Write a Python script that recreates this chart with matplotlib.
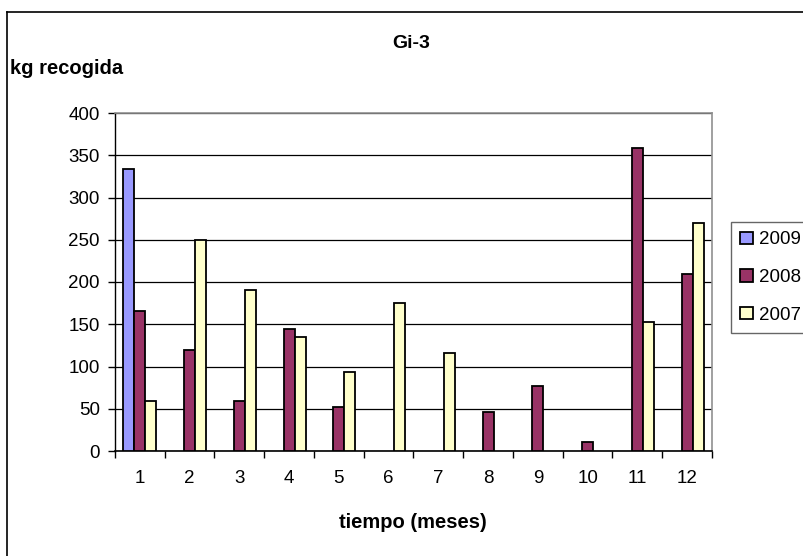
import numpy as np
import matplotlib
matplotlib.use("Agg")
import matplotlib.pyplot as plt
from matplotlib.lines import Line2D

months = [str(i) for i in range(1, 13)]
series_names = ["2009", "2008", "2007"]
v2009 = [334, None, None, None, None, None, None, None, None, None, None, None]
v2008 = [166, 119, 59, 144, 52, None, None, 46, 77, 11, 359, 209]
v2007 = [59, 250, 191, 135, 94, 175, 116, None, None, None, 153, 270]
colors = ["#9999FF", "#993366", "#FFFFCC"]
yticks = [0, 50, 100, 150, 200, 250, 300, 350, 400]

plt.rcParams['font.family'] = ['Liberation Sans', 'DejaVu Sans']

W, H = 804, 556
fig = plt.figure(figsize=(W/100, H/100), dpi=100)
fig.patch.set_facecolor("white")

# outer chart border (top and left edges visible; right/bottom cropped)
fig.add_artist(Line2D([7/W, 1.0], [1 - 12/H, 1 - 12/H], transform=fig.transFigure,
                      color="black", linewidth=1.2))
fig.add_artist(Line2D([7/W, 7/W], [0.0, 1 - 12/H], transform=fig.transFigure,
                      color="black", linewidth=1.2))

left, right, top, bottom = 115, 712, 113, 451
ax = fig.add_axes([left/W, 1 - bottom/H, (right-left)/W, (bottom-top)/H])

x = np.arange(len(months))
bw = 1/4.5
data = [v2009, v2008, v2007]
for i, (name, vals, c) in enumerate(zip(series_names, data, colors)):
    arr = np.array([np.nan if v is None else v for v in vals], dtype=float)
    ax.bar(x + (i-1)*bw, arr, width=bw, color=c, edgecolor="black", linewidth=1.3,
           label=name, zorder=3)

ax.set_xlim(-0.5, len(months)-0.5)
ax.set_ylim(0, 400)
ax.set_yticks(yticks)
ax.set_yticklabels([str(t) for t in yticks], fontsize=13.5)
ax.yaxis.grid(True, color="black", linewidth=0.9, zorder=0)
ax.set_axisbelow(True)

ax.set_xticks(np.arange(-0.5, len(months)+0.5, 1))
ax.set_xticklabels([])
ax.set_xticks(x, minor=True)
ax.set_xticklabels(months, minor=True, fontsize=13.5)
ax.tick_params(axis='x', which='minor', length=0, pad=14)
ax.tick_params(axis='x', which='major', direction='out', length=5, width=1)
ax.tick_params(axis='y', direction='out', length=5, width=1, pad=6)

ax.spines['left'].set_color('black')
ax.spines['bottom'].set_color('black')
ax.spines['top'].set_color('#909090')
ax.spines['right'].set_color('#909090')
ax.spines['left'].set_linewidth(1.0)
ax.spines['bottom'].set_linewidth(1.2)
ax.spines['top'].set_linewidth(1.2)
ax.spines['right'].set_linewidth(1.2)

fig.text(411/W, 1 - 43/H, "Gi-3", ha='center', va='center', fontsize=14, fontweight='bold')
fig.text(10/W, 1 - 68/H, "kg recogida", ha='left', va='center', fontsize=14.5, fontweight='bold')
fig.text(413/W, 1 - 522/H, "tiempo (meses)", ha='center', va='center', fontsize=14.5, fontweight='bold')

leg = fig.legend(loc='upper left', bbox_to_anchor=(731/W, 1 - 222/H), frameon=True,
                 fancybox=False, edgecolor='#404040', fontsize=13.5, handlelength=0.65,
                 handleheight=0.65, handletextpad=0.35, labelspacing=1.1, borderpad=0.5,
                 borderaxespad=0)
leg.get_frame().set_linewidth(1.0)

fig.savefig("out.png", dpi=100)
